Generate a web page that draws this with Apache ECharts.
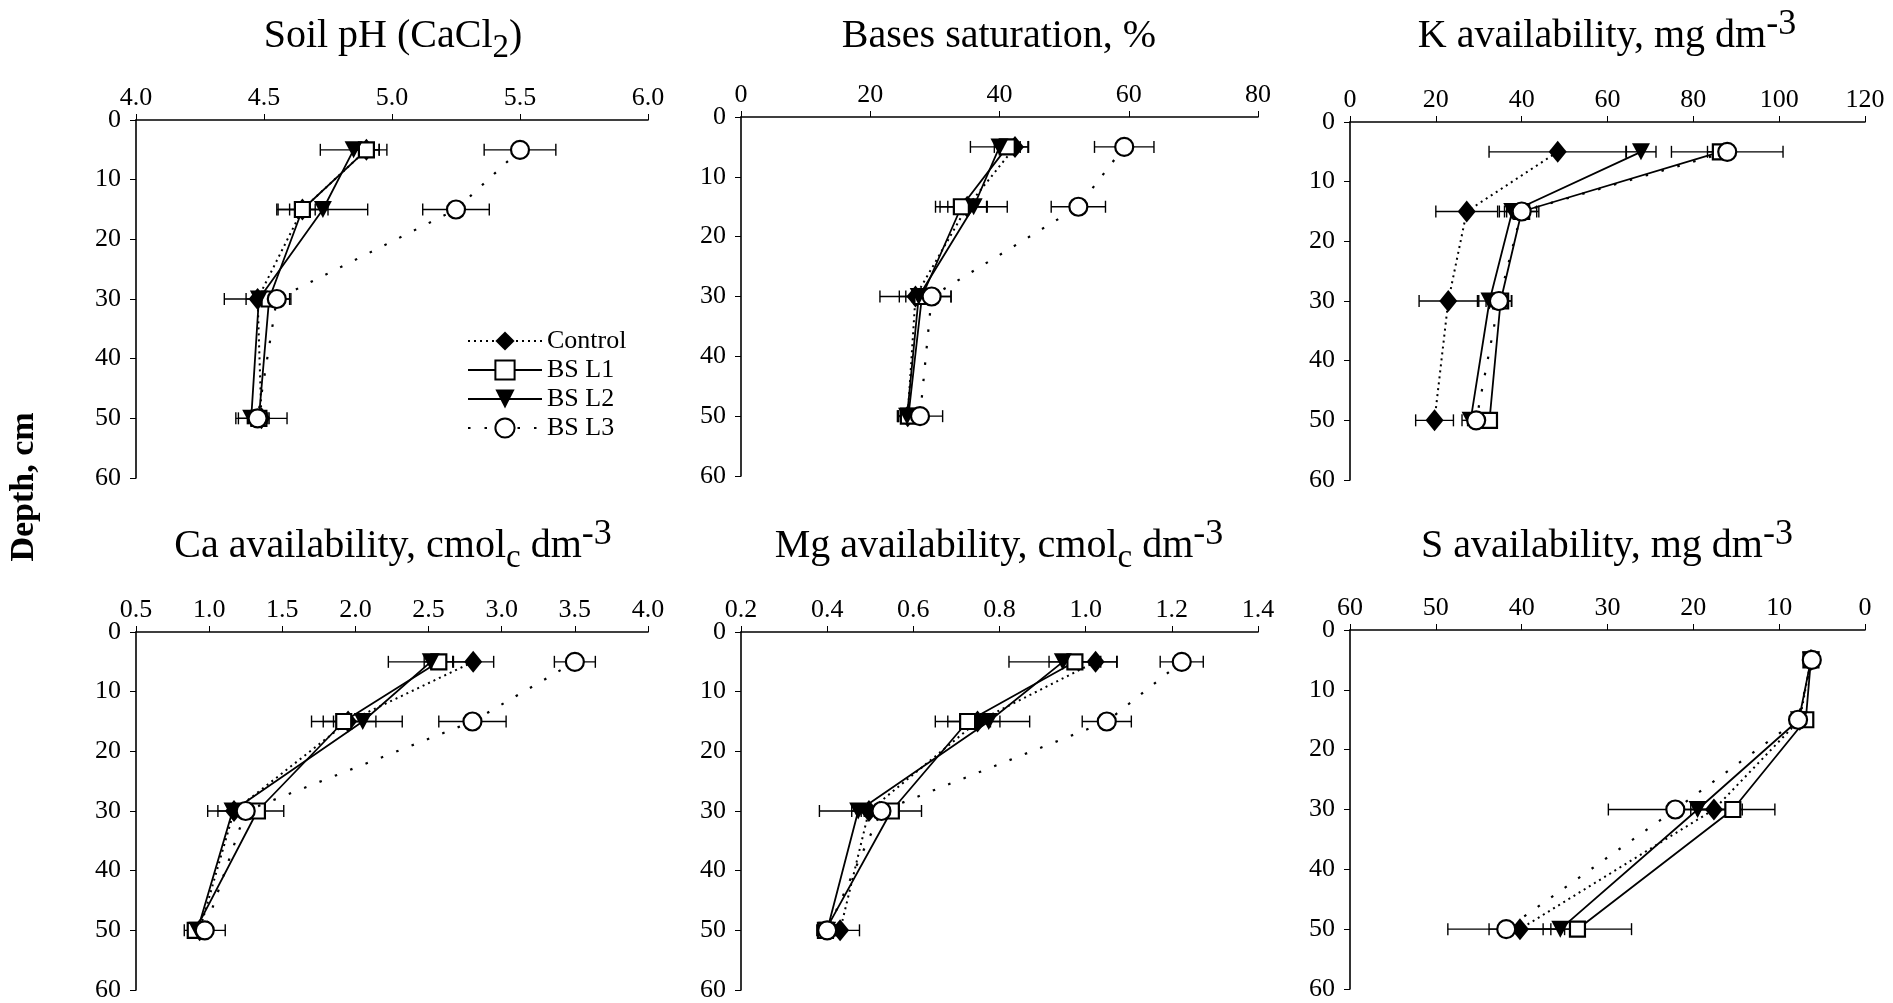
<!DOCTYPE html>
<html>
<head>
<meta charset="utf-8">
<title>Soil profile attributes by depth</title>
<script src="https://cdn.jsdelivr.net/npm/echarts@6/dist/echarts.min.js"></script>
<style>
  html, body { margin: 0; padding: 0; background: #fff; }
  #chart { width: 1893px; height: 1003px; }
</style>
</head>
<body>
<div id="chart"></div>
<script>
// Sampling depths (cm)
const depths = [5, 15, 30, 50];
const seriesNames = ['Control', 'BS L1', 'BS L2', 'BS L3'];

// Soil pH (CaCl2)
const phControl = [4.90, 4.65, 4.475, 4.49];
const phL1 = [4.90, 4.65, 4.52, 4.48];
const phL2 = [4.85, 4.73, 4.48, 4.45];
const phL3 = [5.50, 5.25, 4.55, 4.475];
const phControlErr = [0.05, 0.05, 0.13, 0.10];
const phL1Err = [0.05, 0.10, 0.05, 0.04];
const phL2Err = [0.13, 0.175, 0.05, 0.05];
const phL3Err = [0.14, 0.13, 0.05, 0.04];

// Bases saturation (%)
const bsControl = [42.4, 35.0, 27.0, 25.8];
const bsL1 = [41.2, 34.1, 28.0, 25.9];
const bsL2 = [40.0, 36.0, 27.5, 25.7];
const bsL3 = [59.3, 52.2, 29.5, 27.7];
const bsControlErr = [2.0, 3.0, 5.5, 1.5];
const bsL1Err = [2.0, 4.0, 2.5, 1.5];
const bsL2Err = [4.5, 5.2, 3.0, 1.0];
const bsL3Err = [4.6, 4.2, 3.0, 3.5];

// K availability (mg dm-3)
const kControl = [48.4, 27.2, 22.9, 19.7];
const kL1 = [86.3, 40.0, 35.1, 32.5];
const kL2 = [67.8, 37.8, 32.5, 28.1];
const kL3 = [87.9, 40.0, 34.7, 29.4];
const kControlErr = [16.0, 7.2, 6.8, 4.4];
const kL1Err = [3.0, 3.5, 2.5, 1.5];
const kL2Err = [3.5, 3.0, 2.5, 2.0];
const kL3Err = [13.0, 4.0, 3.0, 2.0];

// Ca availability (cmolc dm-3)
const caControl = [2.805, 1.95, 1.17, 0.935];
const caL1 = [2.57, 1.92, 1.33, 0.905];
const caL2 = [2.515, 2.05, 1.16, 0.92];
const caL3 = [3.50, 2.80, 1.25, 0.97];
const caControlErr = [0.14, 0.10, 0.18, 0.05];
const caL1Err = [0.10, 0.22, 0.18, 0.05];
const caL2Err = [0.29, 0.27, 0.10, 0.04];
const caL3Err = [0.14, 0.23, 0.08, 0.14];

// Mg availability (cmolc dm-3)
const mgControl = [1.023, 0.749, 0.497, 0.43];
const mgL1 = [0.975, 0.726, 0.549, 0.396];
const mgL2 = [0.947, 0.775, 0.472, 0.40];
const mgL3 = [1.223, 1.049, 0.526, 0.40];
const mgControlErr = [0.05, 0.03, 0.04, 0.045];
const mgL1Err = [0.06, 0.075, 0.07, 0.02];
const mgL2Err = [0.125, 0.095, 0.09, 0.02];
const mgL3Err = [0.05, 0.057, 0.04, 0.02];

// S availability (mg dm-3)
const sControl = [6.3, 7.6, 17.6, 40.2];
const sL1 = [6.3, 6.9, 15.4, 33.5];
const sL2 = [6.3, 7.7, 19.5, 35.5];
const sL3 = [6.2, 7.8, 22.1, 41.8];
const sControlErr = [0.3, 0.4, 2.0, 3.6];
const sL1Err = [0.3, 0.5, 4.9, 6.3];
const sL2Err = [0.3, 0.4, 2.0, 2.0];
const sL3Err = [0.3, 0.4, 7.8, 6.8];

const FONT = '"Liberation Serif", "Times New Roman", serif';

const panels = [
  { values: [phControl, phL1, phL2, phL3], errs: [phControlErr, phL1Err, phL2Err, phL3Err],
    min: 4, max: 6, interval: 0.5, decimals: 1, inverse: false,
    grid: { left: 136, top: 120, width: 512, height: 358 } },
  { values: [bsControl, bsL1, bsL2, bsL3], errs: [bsControlErr, bsL1Err, bsL2Err, bsL3Err],
    min: 0, max: 80, interval: 20, decimals: 0, inverse: false,
    grid: { left: 741, top: 117, width: 517, height: 359 } },
  { values: [kControl, kL1, kL2, kL3], errs: [kControlErr, kL1Err, kL2Err, kL3Err],
    min: 0, max: 120, interval: 20, decimals: 0, inverse: false,
    grid: { left: 1350, top: 122, width: 515, height: 358 } },
  { values: [caControl, caL1, caL2, caL3], errs: [caControlErr, caL1Err, caL2Err, caL3Err],
    min: 0.5, max: 4, interval: 0.5, decimals: 1, inverse: false,
    grid: { left: 136, top: 632, width: 512, height: 359 } },
  { values: [mgControl, mgL1, mgL2, mgL3], errs: [mgControlErr, mgL1Err, mgL2Err, mgL3Err],
    min: 0.2, max: 1.4, interval: 0.2, decimals: 1, inverse: false,
    grid: { left: 741, top: 632, width: 517, height: 359 } },
  { values: [sControl, sL1, sL2, sL3], errs: [sControlErr, sL1Err, sL2Err, sL3Err],
    min: 0, max: 60, interval: 10, decimals: 0, inverse: true,
    grid: { left: 1350, top: 630, width: 515, height: 359 } }
];

// Marker and line style of each treatment
const looks = [
  { symbol: 'diamond', symbolSize: [18, 22], fill: '#000', line: { type: [2, 4], width: 2 } },
  { symbol: 'rect', symbolSize: 15, fill: '#fff', line: { type: 'solid', width: 1.8 } },
  { symbol: 'triangle', symbolRotate: 180, symbolSize: [18, 17], fill: '#000', line: { type: 'solid', width: 1.8 } },
  { symbol: 'circle', symbolSize: 18, fill: '#fff', line: { type: [2.5, 14], width: 2.2 } }
];

const axisLabelStyle = { color: '#000', fontSize: 26, fontFamily: FONT };

const grids = [], xAxes = [], yAxes = [], series = [];

panels.forEach((p, i) => {
  grids.push(Object.assign({ containLabel: false }, p.grid));
  xAxes.push({
    type: 'value', gridIndex: i, position: 'top', inverse: p.inverse,
    min: p.min, max: p.max, interval: p.interval,
    axisLine: { show: true, onZero: false, lineStyle: { color: '#000', width: 1.6 } },
    axisTick: { show: true, length: 6, lineStyle: { color: '#000', width: 1 } },
    axisLabel: Object.assign({ margin: 9, formatter: v => v.toFixed(p.decimals) }, axisLabelStyle),
    splitLine: { show: false }
  });
  yAxes.push({
    type: 'value', gridIndex: i, inverse: true, min: 0, max: 60, interval: 10,
    axisLine: { show: true, onZero: false, lineStyle: { color: '#000', width: 1.6 } },
    axisTick: { show: true, length: 6, lineStyle: { color: '#000', width: 1 } },
    axisLabel: Object.assign({ margin: 15 }, axisLabelStyle),
    splitLine: { show: false }
  });

  // Horizontal error bars (mean ± SE) drawn beneath the markers
  const errData = [];
  p.values.forEach((vals, s) => {
    vals.forEach((v, k) => errData.push([v, depths[k], p.errs[s][k]]));
  });
  series.push({
    type: 'custom', xAxisIndex: i, yAxisIndex: i, z: 1, silent: true, clip: false,
    encode: { x: 0, y: 1 },
    data: errData,
    renderItem: (params, api) => {
      const v = api.value(0), d = api.value(1), e = api.value(2);
      const a = api.coord([v - e, d]);
      const b = api.coord([v + e, d]);
      const cap = 6;
      const st = { stroke: '#000', lineWidth: 1.4 };
      return {
        type: 'group',
        children: [
          { type: 'line', shape: { x1: a[0], y1: a[1], x2: b[0], y2: b[1] }, style: st },
          { type: 'line', shape: { x1: a[0], y1: a[1] - cap, x2: a[0], y2: a[1] + cap }, style: st },
          { type: 'line', shape: { x1: b[0], y1: b[1] - cap, x2: b[0], y2: b[1] + cap }, style: st }
        ]
      };
    }
  });

  p.values.forEach((vals, s) => {
    const lk = looks[s];
    series.push({
      name: seriesNames[s], type: 'line', xAxisIndex: i, yAxisIndex: i,
      z: 3 + (s === 3 ? 1 : 0),
      data: vals.map((v, k) => [v, depths[k]]),
      symbol: lk.symbol, symbolSize: lk.symbolSize, symbolRotate: lk.symbolRotate || 0,
      showAllSymbol: true, animation: false, clip: false,
      lineStyle: { color: '#000', type: lk.line.type, width: lk.line.width },
      itemStyle: { color: lk.fill, borderColor: '#000', borderWidth: s === 0 || s === 2 ? 0 : 2.2 }
    });
  });
});

// Panel titles with sub/superscripts
const rich = {
  b: { fontSize: 40, fontFamily: FONT, lineHeight: 58, fill: '#000' },
  sup: { fontSize: 36, fontFamily: FONT, lineHeight: 34, verticalAlign: 'top', fill: '#000' },
  sub: { fontSize: 33, fontFamily: FONT, lineHeight: 33, verticalAlign: 'bottom', fill: '#000' }
};
const titles = [
  { x: 393, y: 36, text: '{b|Soil pH (CaCl}{sub|2}{b|)}' },
  { x: 999, y: 36, text: '{b|Bases saturation, %}' },
  { x: 1607, y: 36, text: '{b|K availability, mg dm}{sup|-3}' },
  { x: 393, y: 546, text: '{b|Ca availability, cmol}{sub|c}{b| dm}{sup|-3}' },
  { x: 999, y: 546, text: '{b|Mg availability, cmol}{sub|c}{b| dm}{sup|-3}' },
  { x: 1607, y: 546, text: '{b|S availability, mg dm}{sup|-3}' }
];

const graphic = titles.map(t => ({
  type: 'text', x: t.x, y: t.y, silent: true,
  style: { text: t.text, rich: rich, align: 'center', verticalAlign: 'middle', fill: '#000' }
}));
graphic.push({
  type: 'text', x: 24, y: 487, rotation: Math.PI / 2, silent: true,
  style: {
    text: 'Depth, cm', align: 'center', verticalAlign: 'middle', fill: '#000',
    font: 'bold 34px ' + FONT
  }
});

const chart = echarts.init(document.getElementById('chart'), null, { renderer: 'canvas' });
chart.setOption({
  backgroundColor: '#fff',
  animation: false,
  grid: grids,
  xAxis: xAxes,
  yAxis: yAxes,
  legend: {
    data: seriesNames,
    orient: 'vertical',
    left: 462, top: 323,
    itemWidth: 74, itemHeight: 24, itemGap: 3,
    textStyle: { color: '#000', fontSize: 26, fontFamily: FONT, lineHeight: 26 },
    selectedMode: false
  },
  graphic: graphic,
  series: series
});
</script>
</body>
</html>
